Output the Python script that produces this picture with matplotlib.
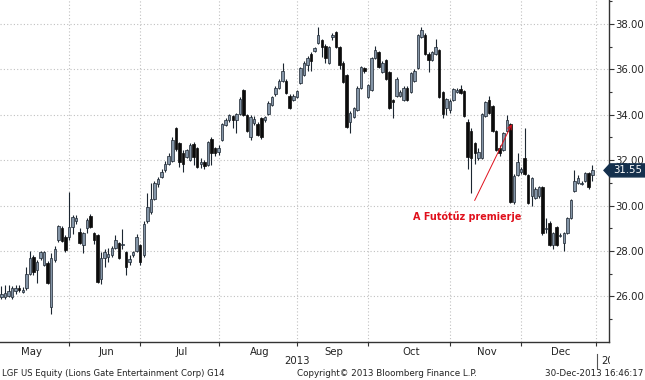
import numpy as np
import pandas as pd
import matplotlib
matplotlib.use('Agg')
import matplotlib.pyplot as plt
from matplotlib.patches import Polygon
from matplotlib.lines import Line2D
from matplotlib.transforms import Bbox

# ---------------- data ----------------
holidays = ['2013-05-27', '2013-07-04', '2013-09-02', '2013-11-28', '2013-12-25', '2014-01-01']
first_day = '2013-05-03'
month_names = ['May', 'Jun', 'Jul', 'Aug', 'Sep', 'Oct', 'Nov', 'Dec']
year_label = '2013'
next_year_label = '2014'
y_major = [26, 28, 30, 32, 34, 36, 38]
y_minor = [25, 27, 29, 31, 33, 35, 37, 39]

opens = [25.95, 25.95, 26.00, 25.95, 26.25, 26.35, 26.20, 26.35, 27.00, 27.75,
         27.15, 27.70, 27.40, 27.45, 25.55, 27.60, 28.50, 29.00, 28.60, 28.60,
         29.05, 29.30, 28.85, 28.25, 29.00, 29.55, 28.80, 28.70, 26.75, 27.70,
         27.75, 27.80, 28.15, 28.35, 28.25, 27.95, 27.50, 27.80, 28.00, 28.25,
         27.80, 29.30, 29.70, 30.30, 30.95, 31.25, 31.55, 31.85, 31.95, 33.40,
         32.75, 32.30, 32.15, 32.00, 32.70, 32.55, 31.85, 31.90, 31.80, 32.95,
         32.55, 32.35, 32.90, 33.55, 33.75, 33.95, 33.75, 34.05, 35.10, 34.00,
         33.00, 33.65, 33.60, 33.85, 33.75, 34.05, 34.45, 34.90, 35.20, 35.50,
         35.50, 34.85, 34.65, 34.80, 35.40, 35.75, 36.20, 36.70, 36.80, 37.15,
         37.30, 37.05, 36.30, 37.45, 37.65, 37.00, 36.30, 35.75, 33.70, 33.90,
         34.20, 35.20, 36.05, 34.80, 35.10, 36.50, 36.75, 35.90, 36.40, 35.90,
         34.65, 34.85, 34.85, 34.65, 35.20, 35.00, 35.50, 36.05, 37.45, 37.50,
         36.70, 36.40, 36.70, 36.85, 35.00, 34.30, 34.20, 34.65, 35.00, 35.15,
         35.05, 33.70, 33.30, 32.75, 32.10, 32.10, 33.95, 34.65, 34.40, 33.30,
         32.55, 32.45, 33.30, 33.60, 30.15, 31.35, 31.50, 32.10, 31.35, 30.40,
         30.35, 30.40, 30.80, 28.95, 29.25, 28.25, 29.05, 28.65, 28.35, 28.80,
         29.45, 30.65, 31.00, 30.95, 31.10, 31.45, 31.35]
highs = [26.45, 26.50, 26.50, 26.45, 26.50, 26.50, 26.40, 27.30, 28.00, 27.80,
         27.60, 28.00, 28.00, 27.55, 27.90, 28.20, 29.15, 29.10, 28.70, 30.60,
         29.60, 29.60, 29.00, 28.85, 29.45, 29.65, 28.85, 28.75, 27.95, 28.10,
         28.15, 28.20, 28.70, 28.40, 28.95, 28.00, 27.80, 28.00, 28.75, 28.30,
         29.30, 30.55, 31.00, 31.10, 31.25, 31.60, 31.95, 32.30, 33.00, 33.45,
         32.80, 32.45, 32.50, 32.75, 32.80, 32.60, 32.10, 32.00, 32.85, 33.00,
         32.60, 32.65, 33.65, 33.85, 34.05, 34.00, 34.10, 34.80, 35.15, 34.05,
         34.00, 33.95, 33.70, 33.90, 33.95, 34.60, 34.85, 35.25, 35.60, 36.30,
         35.60, 34.90, 34.90, 35.10, 36.10, 36.35, 36.60, 36.75, 37.00, 37.85,
         37.35, 37.10, 37.05, 37.60, 37.70, 37.05, 36.35, 35.80, 34.15, 34.35,
         35.25, 36.15, 36.10, 35.35, 36.55, 37.05, 36.80, 36.35, 36.45, 35.95,
         34.70, 35.65, 35.10, 35.25, 35.25, 35.90, 36.00, 37.55, 37.85, 37.60,
         36.75, 36.80, 37.35, 36.90, 35.05, 34.75, 34.70, 35.20, 35.20, 35.30,
         35.10, 33.80, 33.40, 32.80, 32.55, 34.10, 34.60, 34.85, 34.45, 33.35,
         32.65, 33.25, 34.00, 33.65, 31.40, 32.30, 31.70, 33.40, 31.40, 31.25,
         30.80, 30.85, 30.85, 29.45, 29.30, 28.85, 29.10, 28.80, 28.85, 29.50,
         30.30, 31.55, 31.35, 31.10, 31.50, 31.50, 31.80]
lows = [25.90, 25.90, 25.95, 25.90, 26.10, 26.20, 26.15, 26.30, 26.95, 26.95,
        26.60, 27.60, 27.35, 26.55, 25.20, 27.50, 28.40, 28.40, 27.95, 28.50,
        28.75, 29.20, 28.30, 27.90, 28.80, 29.00, 28.30, 26.60, 26.55, 27.30,
        27.50, 27.75, 28.10, 27.65, 28.10, 26.95, 27.40, 27.75, 27.95, 27.40,
        27.75, 29.25, 29.65, 30.25, 30.80, 31.20, 31.50, 31.80, 31.90, 32.40,
        31.70, 31.50, 32.10, 31.95, 31.80, 31.65, 31.65, 31.60, 31.75, 31.80,
        32.20, 32.25, 32.85, 33.50, 33.70, 33.40, 33.20, 34.00, 33.95, 33.25,
        32.90, 33.55, 33.05, 32.95, 33.70, 34.00, 34.40, 34.85, 35.15, 35.45,
        34.90, 34.25, 34.60, 34.75, 35.35, 35.70, 35.95, 35.95, 36.75, 37.10,
        36.55, 36.30, 36.25, 37.30, 36.95, 36.00, 35.40, 33.40, 33.20, 33.85,
        34.15, 35.15, 35.85, 34.75, 35.05, 36.45, 36.05, 35.85, 35.55, 34.25,
        33.85, 34.80, 34.80, 34.60, 34.60, 34.95, 35.45, 36.00, 37.40, 36.65,
        35.90, 36.35, 36.65, 34.75, 33.85, 34.00, 34.10, 34.60, 34.95, 34.90,
        33.90, 31.60, 30.55, 31.85, 32.00, 32.05, 33.90, 34.05, 33.25, 32.40,
        32.20, 32.40, 33.25, 30.10, 30.05, 31.30, 31.40, 31.35, 30.05, 30.00,
        30.30, 30.35, 28.70, 28.80, 28.20, 28.10, 28.20, 28.60, 28.00, 28.75,
        29.40, 30.60, 30.95, 30.90, 31.05, 30.75, 31.10]
closes = [26.10, 26.15, 26.25, 26.35, 26.35, 26.30, 26.30, 27.00, 27.70, 27.05,
          27.50, 27.95, 27.95, 26.60, 27.70, 28.10, 29.10, 28.45, 28.05, 29.05,
          29.50, 29.45, 28.35, 28.80, 29.35, 29.05, 28.50, 26.65, 27.70, 27.95,
          27.85, 28.15, 28.50, 27.70, 28.30, 27.30, 27.65, 27.95, 28.60, 27.50,
          29.20, 29.95, 30.30, 31.00, 31.15, 31.50, 31.85, 32.20, 32.90, 32.50,
          31.90, 31.85, 32.45, 32.65, 32.15, 31.70, 31.90, 31.75, 32.80, 32.30,
          32.30, 32.55, 33.60, 33.75, 34.00, 33.75, 34.05, 34.70, 34.00, 33.30,
          33.90, 33.80, 33.10, 33.00, 33.90, 34.50, 34.80, 35.20, 35.50, 35.95,
          34.95, 34.30, 34.85, 35.05, 36.05, 36.30, 36.50, 36.35, 36.95, 37.50,
          37.00, 36.50, 37.00, 37.50, 37.00, 36.20, 35.45, 33.45, 34.10, 34.30,
          35.20, 36.10, 35.95, 35.30, 36.50, 36.85, 36.10, 36.30, 35.60, 34.30,
          34.55, 35.60, 35.00, 35.20, 34.65, 35.85, 35.95, 37.50, 37.75, 36.70,
          36.40, 36.75, 37.00, 34.80, 34.05, 34.70, 34.60, 35.15, 35.10, 34.95,
          33.95, 32.15, 32.10, 32.30, 32.35, 34.05, 34.55, 34.10, 33.30, 32.45,
          32.30, 33.20, 33.75, 30.15, 31.30, 31.90, 31.60, 31.40, 30.10, 31.20,
          30.75, 30.80, 28.80, 29.00, 28.25, 28.80, 28.25, 28.70, 28.80, 29.45,
          30.25, 31.10, 31.20, 31.00, 31.45, 30.80, 31.55]

annotation_text = 'A Futótűz premierje'
footer_left = 'LGF US Equity (Lions Gate Entertainment Corp) G14'
footer_mid = 'Copyright\u00a9 2013 Bloomberg Finance L.P.'
footer_right = '30-Dec-2013 16:46:17'

# ---------------- positions from trading calendar ----------------
calendar = pd.bdate_range('2013-05-01', '2014-01-31', freq='C', holidays=holidays)
p0 = calendar.get_loc(pd.Timestamp(first_day))
cal_pos = np.arange(len(calendar)) - p0
n = len(opens)
x = cal_pos[p0:p0 + n].astype(float)

O = np.array(opens); H = np.array(highs); L = np.array(lows); C = np.array(closes)

month_ends, month_centers = [], []
for m in range(5, 13):
    sel = cal_pos[(calendar.month == m) & (calendar.year == 2013)]
    month_ends.append(sel.max())
    month_centers.append(sel.mean())

# ---------------- figure ----------------
W, Hpx = 645, 380
fig = plt.figure(figsize=(W / 100, Hpx / 100), dpi=100)
plt.rcParams['font.family'] = ['DejaVu Sans']
axb = 341.7
ax = fig.add_axes([0, (Hpx - axb) / Hpx, 609 / W, axb / Hpx])
ax.set_xlim(-0.4, 170.7)
ax.set_ylim(24.0, 39.06)

grid_c = '#c0c0c0'
for yv in y_major:
    ax.axhline(yv, color=grid_c, lw=0.8, ls=(0, (1, 2)), zorder=0)
for xv in month_ends:
    ax.axvline(xv, color=grid_c, lw=0.8, ls=(0, (1, 2)), zorder=0)

edge = '#1c2631'
up = C >= O
ax.vlines(x, L, H, color=edge, lw=0.8, zorder=2)
hb = np.maximum(np.abs(C - O), 0.05)
ax.bar(x[up], hb[up], bottom=np.minimum(O, C)[up], width=0.7,
       color='#8495a7', edgecolor=edge, lw=0.5, zorder=3)
ax.bar(x[~up], hb[~up], bottom=np.minimum(O, C)[~up], width=0.7,
       color='#0b0b0b', edgecolor='#0b0b0b', lw=0.5, zorder=3)

for s in ['top', 'left']:
    ax.spines[s].set_visible(False)
for s in ['right', 'bottom']:
    ax.spines[s].set_color('#333333')
    ax.spines[s].set_linewidth(1.0)

ax.yaxis.tick_right()
ax.set_yticks(y_major)
ax.set_yticklabels([f'{v:.2f}' for v in y_major])
ax.set_yticks(y_minor, minor=True)
ax.tick_params(axis='y', which='major', direction='out', length=3.5, width=0.8,
               color='#333333', labelsize=7.3, pad=1, labelcolor='#222222')
ax.tick_params(axis='y', which='minor', direction='out', length=2.5, width=0.8, color='#333333')

ax.set_xticks(month_ends)
ax.set_xticklabels([''] * len(month_ends))
ax.set_xticks(month_centers, minor=True)
ax.set_xticklabels(month_names, minor=True)
ax.tick_params(axis='x', which='major', direction='out', length=3, width=0.8, color='#333333')
ax.tick_params(axis='x', which='minor', length=0, labelsize=7.3, pad=3.5, labelcolor='#222222')

# annotation
ax.annotate(annotation_text, xy=(143.4, 33.59), xytext=(130.8, 29.53),
            ha='center', va='center', color='#e0101c', fontsize=6.9, fontweight='bold',
            arrowprops=dict(arrowstyle='->,head_length=0.45,head_width=0.2', color='#e0101c',
                            lw=0.7, shrinkA=6, shrinkB=0))

def fy(ypx):
    return 1 - ypx / Hpx

fig.text(297 / W, fy(361), year_label, ha='center', va='center', fontsize=7.3, color='#222222')
fig.add_artist(Line2D([596.5 / W, 596.5 / W], [fy(354), fy(368)], color='#555555', lw=0.8))
t = fig.text(601 / W, fy(361), next_year_label, ha='left', va='center', fontsize=7.3, color='#222222')
t.set_clip_box(Bbox.from_extents(0, 0, 610, Hpx))
t.set_clip_on(True)

fig.text(2 / W, fy(374), footer_left, ha='left', va='center', fontsize=6.1, color='#222222')
fig.text(297 / W, fy(374), footer_mid, ha='left', va='center', fontsize=6.3, color='#222222')
fig.text(643 / W, fy(374), footer_right, ha='right', va='center', fontsize=6.3, color='#222222')

# last price tag
fig.canvas.draw()
yd = ax.transData.transform((0, C[-1]))[1]
hh = 6.5
pts = [(604, yd), (610, yd + hh), (645, yd + hh), (645, yd - hh), (610, yd - hh)]
tag = Polygon(pts, closed=True, facecolor='#14304d', edgecolor='#14304d', transform=None, zorder=10)
fig.add_artist(tag)
fig.text(628 / W, yd / Hpx, f'{C[-1]:.2f}', ha='center', va='center', fontsize=7.3,
         color='white', zorder=11)

fig.savefig('out.png', dpi=100)
